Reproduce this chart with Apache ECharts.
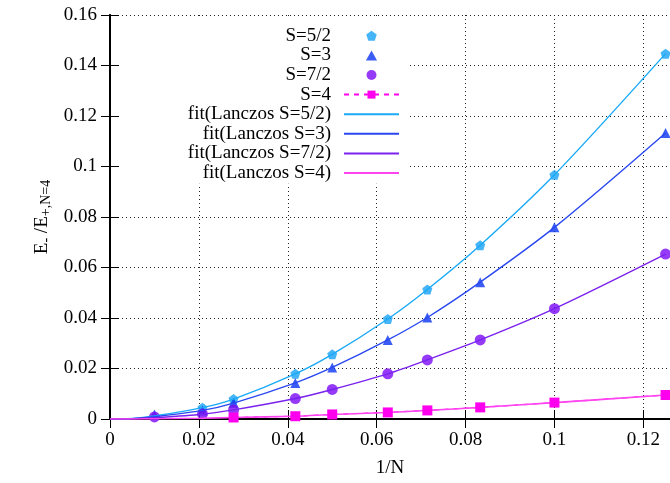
<!DOCTYPE html>
<html>
<head>
<meta charset="utf-8">
<script src="https://cdn.jsdelivr.net/npm/echarts@6/dist/echarts.min.js"></script>
<style>html,body{margin:0;padding:0;background:#fff}#c{width:670px;height:483px}</style>
</head>
<body>
<div id="c"></div>
<script>
// 1/N positions
const xPts = [0.01, 0.0208, 0.0278, 0.0417, 0.05, 0.0625, 0.0714, 0.0833, 0.1, 0.125];
const s52 = [null, 0.0045, 0.0079, 0.0179, 0.0256, 0.0396, 0.0513, 0.0688, 0.0967, 0.1447];
const s3  = [0.0018, 0.0034, 0.0064, 0.0143, 0.0204, 0.0313, 0.0402, 0.0542, 0.0759, 0.1133];
const s72 = [0.0008, 0.0020, 0.0036, 0.0081, 0.0117, 0.0179, 0.0234, 0.0313, 0.0437, 0.0653];
const s4  = [null, null, 0.0006, 0.0011, 0.0018, 0.0026, 0.0034, 0.0046, 0.0065, 0.0095];
// fit curves
const xFit = [0, 0.005, 0.01, 0.0208, 0.0278, 0.0417, 0.05, 0.0625, 0.0714, 0.0833, 0.1, 0.125];
const fit52 = [0, 0.0002, 0.0012, 0.0045, 0.0079, 0.0179, 0.0256, 0.0396, 0.0513, 0.0688, 0.0967, 0.1447];
const fit3  = [0, 0.0001, 0.0009, 0.0034, 0.0063, 0.0143, 0.0204, 0.0313, 0.0402, 0.0542, 0.0759, 0.1133];
const fit72 = [0, 0.0001, 0.0005, 0.0019, 0.0036, 0.0081, 0.0117, 0.0179, 0.0234, 0.0313, 0.0437, 0.0653];
const fit4  = [0, 0.0000, 0.0001, 0.0003, 0.0006, 0.0011, 0.0018, 0.0026, 0.0034, 0.0046, 0.0065, 0.0095];
const names = ['S=5/2', 'S=3', 'S=7/2', 'S=4', 'fit(Lanczos S=5/2)', 'fit(Lanczos S=3)', 'fit(Lanczos S=7/2)', 'fit(Lanczos S=4)'];

function pairs(xs, ys) { return xs.map((x, i) => [x, ys[i]]).filter(p => p[1] !== null); }

const FONT = 'Liberation Serif';
const pentagon = 'path://M0,-1 L0.951,-0.309 L0.588,0.809 L-0.588,0.809 L-0.951,-0.309 Z';
const triangle = 'path://M0,-1 L1,0.8 L-1,0.8 Z';
const chart = echarts.init(document.getElementById('c'));
const grid = { left: 110, right: 0, top: 15, bottom: 57 };
const dotted = { color: '#222', width: 1, type: [1, 3] };
const legendData = names.map((n, i) => i < 4 ? { name: n } : { name: n, itemStyle: { opacity: 0 } });
chart.setOption({
  animation: false,
  backgroundColor: '#fff',
  grid: grid,
  legend: {
    orient: 'vertical',
    align: 'right',
    right: 260,
    top: 19,
    padding: [7, 10, 1, 67],
    backgroundColor: '#fff',
    itemWidth: 55,
    itemHeight: 10,
    itemGap: 0,
    selectedMode: false,
    textStyle: { fontFamily: FONT, fontSize: 19, color: '#000', lineHeight: 19.6, padding: [0, 8, 0, 0] },
    data: legendData
  },
  xAxis: [{
    type: 'value', min: 0, max: 0.126, interval: 0.02,
    name: '1/N', nameLocation: 'middle', nameGap: 40,
    nameTextStyle: { fontFamily: FONT, fontSize: 19, color: '#000' },
    axisLine: { lineStyle: { color: '#000', width: 2 } },
    axisTick: { inside: true, length: 9, lineStyle: { color: '#000', width: 1 } },
    axisLabel: { fontFamily: FONT, fontSize: 19, color: '#000', margin: 12, showMaxLabel: false },
    splitLine: { show: true, lineStyle: dotted }
  }, {
    type: 'value', min: 0, max: 0.126, interval: 0.02, position: 'top',
    axisLine: { show: true, lineStyle: { color: '#000', width: 2 } },
    axisTick: { show: true, inside: true, length: 9, lineStyle: { color: '#000', width: 1 } },
    axisLabel: { show: false }, splitLine: { show: false }
  }],
  yAxis: [{
    type: 'value', min: 0, max: 0.16, interval: 0.02,
    name: '{m|E}{s|-}{m| /E}{s|+,N=4}', nameLocation: 'middle', nameGap: 52,
    nameTextStyle: {
      fontFamily: FONT, fontSize: 19, color: '#000',
      rich: {
        m: { fontFamily: FONT, fontSize: 19, lineHeight: 20, verticalAlign: 'top', color: '#000' },
        s: { fontFamily: FONT, fontSize: 14, lineHeight: 8, verticalAlign: 'bottom', color: '#000' }
      }
    },
    axisLine: { show: true, lineStyle: { color: '#000', width: 2 } },
    axisTick: { show: true, inside: true, length: 9, lineStyle: { color: '#000', width: 1 } },
    axisLabel: { fontFamily: FONT, fontSize: 19, color: '#000', margin: 13 },
    splitLine: { show: true, lineStyle: dotted }
  }, {
    type: 'value', min: 0, max: 0.16, interval: 0.02, position: 'right',
    axisLine: { show: true, lineStyle: { color: '#000', width: 2 } },
    axisTick: { show: true, inside: true, length: 9, lineStyle: { color: '#000', width: 1 } },
    axisLabel: { show: false }, splitLine: { show: false }
  }],
  series: [
    { name: names[0], type: 'scatter', data: pairs(xPts, s52), symbol: pentagon, symbolSize: 10, itemStyle: { color: '#16a2f5' } },
    { name: names[1], type: 'scatter', data: pairs(xPts, s3), symbol: triangle, symbolSize: 10, itemStyle: { color: '#0a34f2' } },
    { name: names[2], type: 'scatter', data: pairs(xPts, s72), symbol: 'circle', symbolSize: 11, itemStyle: { color: '#7a0af5' } },
    { name: names[3], type: 'line', data: pairs(xPts, s4), symbol: 'rect', symbolSize: 10, showSymbol: true,
      itemStyle: { color: '#ff00ee' }, lineStyle: { color: '#ff00ee', width: 1.2, type: [5, 5] } },
    { name: names[4], type: 'line', data: pairs(xFit, fit52), smooth: 0.3, showSymbol: false, symbol: 'none', lineStyle: { color: '#1aaaf8', width: 1.4 }, itemStyle: { color: '#1aaaf8' } },
    { name: names[5], type: 'line', data: pairs(xFit, fit3), smooth: 0.3, showSymbol: false, symbol: 'none', lineStyle: { color: '#2a48f0', width: 1.4 }, itemStyle: { color: '#2a48f0' } },
    { name: names[6], type: 'line', data: pairs(xFit, fit72), smooth: 0.3, showSymbol: false, symbol: 'none', lineStyle: { color: '#7a22ee', width: 1.4 }, itemStyle: { color: '#7a22ee' } },
    { name: names[7], type: 'line', data: pairs(xFit, fit4), smooth: 0.3, showSymbol: false, symbol: 'none', lineStyle: { color: '#ff44f0', width: 1.6 }, itemStyle: { color: '#ff44f0' } }
  ]
});
</script>
</body>
</html>
